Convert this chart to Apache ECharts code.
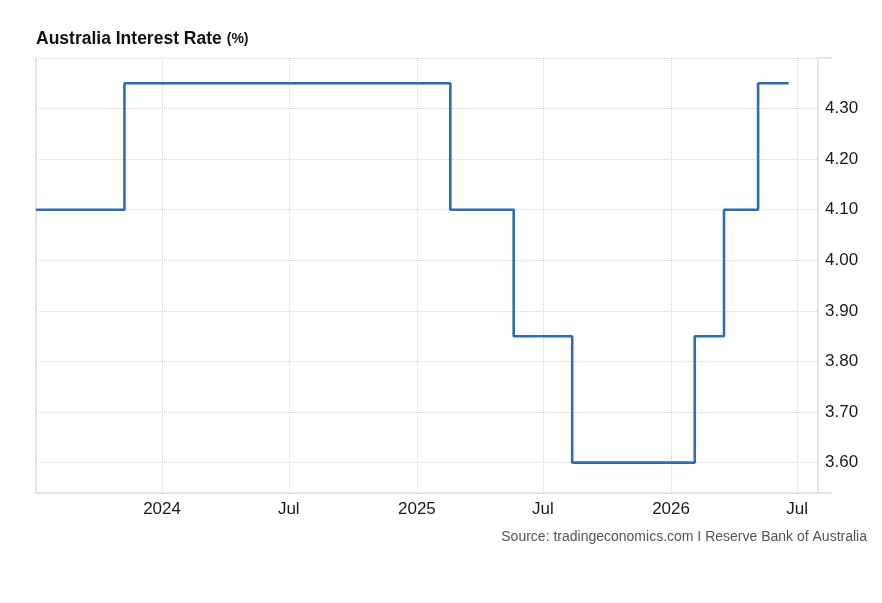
<!DOCTYPE html>
<html>
<head>
<meta charset="utf-8">
<script src="https://cdn.jsdelivr.net/npm/echarts@6/dist/echarts.min.js"></script>
<style>
  html, body { margin: 0; padding: 0; background: #fff; }
  #chart { width: 882px; height: 603px; }
</style>
</head>
<body>
<div id="chart"></div>
<script>
// rate decisions (value holds until next date)
var rateDates = ['2023-07-04', '2023-11-08', '2025-02-18', '2025-05-20', '2025-08-12', '2026-02-04', '2026-03-18', '2026-05-06', '2026-06-19'];
var rateValues = [4.10, 4.35, 4.10, 3.85, 3.60, 3.85, 4.10, 4.35, 4.35];

var xTicks = ['2024-01-01', '2024-07-01', '2025-01-01', '2025-07-01', '2026-01-01', '2026-07-01'];
var xTickLabels = ['2024', 'Jul', '2025', 'Jul', '2026', 'Jul'];
var yTicks = [3.6, 3.7, 3.8, 3.9, 4.0, 4.1, 4.2, 4.3, 4.4];
var yLabels = [3.6, 3.7, 3.8, 3.9, 4.0, 4.1, 4.2, 4.3];

var xMin = '2023-07-04', xMax = '2026-07-31';
var yMin = 3.54, yMax = 4.4;

function ts(d) { return +echarts.time.parse(d); }

var chart = echarts.init(document.getElementById('chart'));
var font = "'Liberation Sans', Arial, Helvetica, sans-serif";
var lightGrey = '#e4e4e4';

var tickKey = {};
xTicks.forEach(function (t, i) { tickKey[ts(t)] = xTickLabels[i]; });

var option = {
  animation: false,
  textStyle: { fontFamily: font },
  title: {
    left: 36,
    top: 30,
    padding: 0,
    text: '{a|Australia Interest Rate} {b|(%)}',
    textStyle: {
      rich: {
        a: { fontSize: 17.5, fontWeight: 'bold', color: '#111', fontFamily: font },
        b: { fontSize: 14, fontWeight: 'bold', color: '#111', fontFamily: font }
      }
    }
  },
  graphic: [{
    type: 'text',
    right: 15,
    top: 530,
    style: {
      text: 'Source: tradingeconomics.com I Reserve Bank of Australia',
      font: '14px ' + font,
      fill: '#555'
    }
  }],
  grid: { left: 36, right: 64, top: 58, bottom: 110, containLabel: false },
  xAxis: {
    type: 'value',
    min: ts(xMin),
    max: ts(xMax),
    axisLine: { show: true, lineStyle: { color: lightGrey, width: 2 } },
    axisTick: { show: false, customValues: xTicks.map(ts) },
    axisLabel: {
      customValues: xTicks.map(ts),
      margin: 8,
      fontSize: 17,
      color: '#1a1a1a',
      formatter: function (v) { return tickKey[v] || ''; }
    },
    splitLine: { show: true, lineStyle: { color: '#d2d2d2', type: 'dotted', width: 1 } }
  },
  yAxis: [{
    type: 'value',
    position: 'right',
    min: yMin,
    max: yMax,
    axisLine: { show: true, lineStyle: { color: lightGrey, width: 2 } },
    axisTick: { show: false, customValues: yTicks },
    axisLabel: {
      customValues: yLabels,
      margin: 7,
      fontSize: 17,
      color: '#1a1a1a',
      formatter: function (v) { return v.toFixed(2); }
    },
    splitLine: { show: true, lineStyle: { color: '#d2d2d2', type: 'dotted', width: 1 } }
  }, {
    type: 'value',
    position: 'right',
    min: yMin,
    max: yMax,
    axisLine: { show: false },
    axisTick: { show: true, customValues: [yMin, yMax], length: 14, lineStyle: { color: lightGrey, width: 2 } },
    axisLabel: { show: false },
    splitLine: { show: false }
  }, {
    type: 'value',
    position: 'left',
    min: yMin,
    max: yMax,
    axisLine: { show: true, lineStyle: { color: lightGrey, width: 2 } },
    axisTick: { show: false },
    axisLabel: { show: false },
    splitLine: { show: false }
  }],
  series: [{
    type: 'line',
    step: 'end',
    yAxisIndex: 0,
    showSymbol: false,
    symbol: 'none',
    lineStyle: { color: '#2f6cb5', width: 2.6 },
    data: rateDates.map(function (d, i) { return [ts(d), rateValues[i]]; })
  }]
};

chart.setOption(option);
</script>
</body>
</html>
